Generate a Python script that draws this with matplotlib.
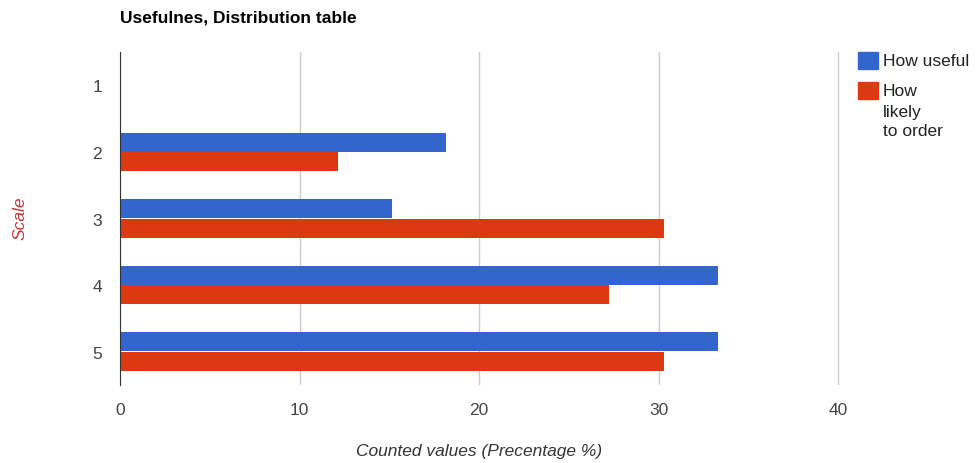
import matplotlib.pyplot as plt
from matplotlib.patches import Rectangle
import numpy as np

plt.rcParams["font.family"] = ["Liberation Sans", "DejaVu Sans"]

escala = ["1", "2", "3", "4", "5"]
quao_util = [0, 18.18, 15.15, 33.33, 33.33]
chance_pedir = [0, 12.12, 30.30, 27.27, 30.30]
series = ["How useful", "How\nlikely\nto order"]
cores = ["#3366cc", "#dc3912"]

fig = plt.figure(figsize=(9.79, 4.64), dpi=100)
# eixo vai um pouco alem de 40 para a grade final nao ser cortada
ax = fig.add_axes([120 / 979, 1 - 386 / 464, (840 - 120) / 979, (386 - 53) / 464])

y = np.arange(len(escala))
altura = 0.285
ax.barh(y - altura / 2 - 0.005, quao_util, height=altura, color=cores[0], zorder=3)
ax.barh(y + altura / 2 + 0.005, chance_pedir, height=altura, color=cores[1], zorder=3)

ax.set_xlim(0, 40 * 720 / 718)
ax.set_ylim(len(escala) - 0.5, -0.5)
ax.set_xticks([0, 10, 20, 30, 40])
ax.set_yticks(y)
ax.set_yticklabels(escala)
ax.tick_params(axis="both", length=0, labelsize=12.5, colors="#444444")
ax.tick_params(axis="y", pad=13)
ax.tick_params(axis="x", pad=12.5)
ax.grid(axis="x", color="#cccccc", linewidth=1, zorder=0)
for lado in ["top", "right", "bottom"]:
    ax.spines[lado].set_visible(False)
ax.spines["left"].set_color("#333333")
ax.spines["left"].set_zorder(4)

ax.set_xlabel("Counted values (Precentage %)", fontsize=12.5, style="italic",
              color="#333333", va="center")
ax.xaxis.set_label_coords(0.5 * 718 / 720, (386 - 452) / 333)
fig.text(20 / 979, 1 - 218 / 464, "Scale", rotation=90, fontsize=12.5, style="italic",
         color="#cc3333", ha="center", va="center")
fig.text(120 / 979, 1 - 18 / 464, "Usefulnes, Distribution table", fontsize=12.5,
         fontweight="bold", ha="left", va="center", color="#000000")

# legenda manual: quadrado alinhado com a primeira linha do rotulo
topos = [53, 83]
for rotulo, cor, topo in zip(series, cores, topos):
    fig.patches.append(Rectangle((858 / 979, 1 - (topo + 17) / 464), 20 / 979, 17 / 464,
                                 transform=fig.transFigure, color=cor, figure=fig))
    fig.text(883 / 979, 1 - (topo + 9) / 464, rotulo.split("\n")[0], fontsize=12.5,
             color="#222222", ha="left", va="center")
    for i, linha in enumerate(rotulo.split("\n")[1:], start=1):
        fig.text(883 / 979, 1 - (topo + 9 + 20 * i) / 464, linha, fontsize=12.5,
                 color="#222222", ha="left", va="center")

fig.savefig("out.png", dpi=100)
